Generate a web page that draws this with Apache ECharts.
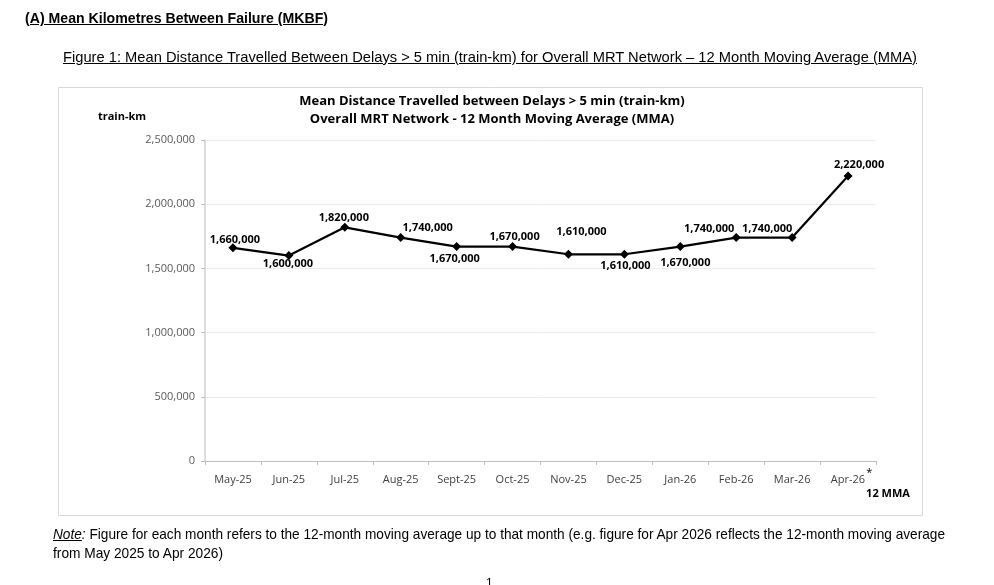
<!DOCTYPE html>
<html>
<head>
<meta charset="utf-8">
<script src="https://cdn.jsdelivr.net/npm/echarts@6/dist/echarts.min.js"></script>
<style>
  html, body { margin: 0; padding: 0; background: #fff; }
  #main { position: absolute; left: 0; top: 0; width: 994px; height: 585px; }
  .txt { position: absolute; white-space: nowrap; color: #000;
         font-family: "Liberation Sans Narrow", "Liberation Sans", sans-serif; font-size: 15px;
         line-height: 18px; transform-origin: 0 50%; }
  .u { text-decoration: underline; }
</style>
</head>
<body>
<div id="main"></div>
<div class="txt u" data-w="303" style="left:25px;top:9px;font-weight:bold;font-size:14.5px;">(A) Mean Kilometres Between Failure (MKBF)</div>
<div class="txt u" data-w="854" style="left:63px;top:48px;">Figure 1: Mean Distance Travelled Between Delays &gt; 5 min (train-km) for Overall MRT Network – 12 Month Moving Average (MMA)</div>
<div class="txt" data-w="892" style="left:53px;top:525px;"><i class="u">Note</i><i>:</i> Figure for each month refers to the 12-month moving average up to that month (e.g. figure for Apr 2026 reflects the 12-month moving average</div>
<div class="txt" data-w="170" style="left:53px;top:544px;">from May 2025 to Apr 2026)</div>
<div class="txt" style="left:486px;top:574px;font-size:12px;">1</div>
<script>
// 数据
var months = ['May-25','Jun-25','Jul-25','Aug-25','Sept-25','Oct-25','Nov-25','Dec-25','Jan-26','Feb-26','Mar-26','Apr-26'];
var mkbf = [1660000, 1600000, 1820000, 1740000, 1670000, 1670000, 1610000, 1610000, 1670000, 1740000, 1740000, 2220000];
var yTicks = [0, 500000, 1000000, 1500000, 2000000, 2500000];

// 标签偏移（样式）
var labelOffsets = [[2,-8],[-1,8],[-1,-9],[27,-10],[-2,12],[2,-10],[13,-22],[1,12],[5,16],[-27,-9],[-25,-9],[11,-11]];

// 页面文字按宽度缩放
document.querySelectorAll('.txt[data-w]').forEach(function(el) {
    var w = el.getBoundingClientRect().width;
    var target = +el.getAttribute('data-w');
    el.style.transform = 'scaleX(' + (target / w) + ')';
});

function fmt(v) { return v.toLocaleString('en-US'); }

var chartFont = '"Open Sans", "Noto Sans", sans-serif';
var myChart = echarts.init(document.getElementById('main'));

var seriesData = mkbf.map(function(v, i) {
    return {
        value: v,
        label: { offset: labelOffsets[i] }
    };
});

var option = {
    animation: false,
    backgroundColor: '#fff',
    textStyle: { fontFamily: chartFont },
    grid: { left: 205, right: 118, top: 140, bottom: 124, containLabel: false },
    graphic: [
        { type: 'rect', shape: { x: 58.5, y: 87.5, width: 864, height: 428 },
          style: { fill: 'none', stroke: '#d9d9d9', lineWidth: 1 }, z: -1 },
        { type: 'text', x: 492, y: 95,
          style: { text: 'Mean Distance Travelled between Delays > 5 min (train-km)', align: 'center',
                   font: 'bold 13px ' + chartFont, fill: '#000' } },
        { type: 'text', x: 492, y: 113,
          style: { text: 'Overall MRT Network - 12 Month Moving Average (MMA)', align: 'center',
                   font: 'bold 13px ' + chartFont, fill: '#000' } },
        { type: 'text', x: 122, y: 111,
          style: { text: 'train-km', align: 'center', font: 'bold 11px ' + chartFont, fill: '#000' } },
        { type: 'text', x: 888, y: 488,
          style: { text: '12 MMA', align: 'center', font: 'bold 11px ' + chartFont, fill: '#000' } }
    ],
    xAxis: {
        type: 'category',
        data: months,
        boundaryGap: true,
        axisLine: { lineStyle: { color: '#bfbfbf', width: 1 } },
        axisTick: { show: true, length: 4, lineStyle: { color: '#bfbfbf' } },
        axisLabel: {
            color: '#404040', fontSize: 11, margin: 24, interval: 0,
            verticalAlign: 'bottom',
            formatter: function(v, i) {
                return i === months.length - 1 ? '{b|' + v + '}{s|*}' : '{a|' + v + '}';
            },
            rich: {
                a: { fontSize: 11, color: '#404040', verticalAlign: 'bottom' },
                b: { fontSize: 11, color: '#404040', verticalAlign: 'bottom', padding: [0, 0, 0, 7] },
                s: { fontSize: 11, color: '#000', verticalAlign: 'top', padding: [0, 0, 7, 1] }
            }
        }
    },
    yAxis: {
        type: 'value',
        min: yTicks[0],
        max: yTicks[yTicks.length - 1],
        interval: yTicks[1] - yTicks[0],
        axisLine: { show: true, lineStyle: { color: '#d0d0d0', width: 1.5 } },
        axisTick: { show: true, length: 4, lineStyle: { color: '#bfbfbf' } },
        axisLabel: { color: '#595959', fontSize: 11, margin: 10, formatter: fmt },
        splitLine: { lineStyle: { color: '#ebebeb' } }
    },
    series: [{
        name: '12 MMA',
        type: 'line',
        data: seriesData,
        symbol: 'diamond',
        symbolSize: 9,
        itemStyle: { color: '#000' },
        lineStyle: { color: '#000', width: 2.2 },
        label: {
            show: true,
            position: 'inside',
            color: '#000',
            fontSize: 11,
            fontWeight: 'bold',
            formatter: function(p) { return fmt(p.value); }
        }
    }]
};

myChart.setOption(option);
</script>
</body>
</html>
